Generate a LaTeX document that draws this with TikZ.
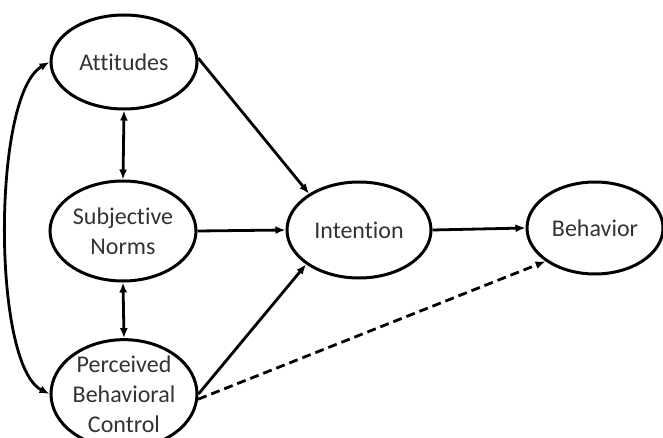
\documentclass[tikz,border=0pt]{standalone}
\usepackage{fontspec}
\setmainfont{Carlito}[Ligatures={NoCommon}]
\usetikzlibrary{shapes.geometric,arrows.meta}
\begin{document}
\begin{tikzpicture}[x=1pt,y=-1pt,
  construct/.style={ellipse,draw=black,line width=3pt,inner sep=0pt,
    minimum width=146pt,minimum height=94pt,align=center,
    font=\fontsize{24}{30}\selectfont,text=black!80},
  link/.style={line width=2.8pt,-{Latex[length=10pt,width=8pt]}},
  dlink/.style={line width=2.8pt,{Latex[length=10pt,width=8pt]}-{Latex[length=10pt,width=8pt]}},
  dashlink/.style={link,dash pattern=on 9pt off 5pt}]
\useasboundingbox (0,0) rectangle (663,438);
\fill[white] (0,0) rectangle (663,438);
\node[construct] (att) at (124,62) {Attitudes};
\node[construct,minimum height=100pt] (sn) at (123,231) {Subjective\\Norms};
\node[construct,minimum height=90pt] (pbc) at (124,394) {Perceived\\Behavioral\\Control};
\node[construct,minimum height=96pt,minimum width=144pt] (int) at (359,230) {Intention};
\node[construct,minimum height=92pt,minimum width=136pt] (beh) at (595,228) {Behavior};
\draw[link] (att.3) -- (int.144);
\draw[link] (sn.east) -- (int.west);
\draw[link] (pbc.0) -- (int.213);
\draw[link] (int.east) -- (beh.west);
\draw[dashlink] (pbc.-4) -- (beh.214);
\draw[dlink] (att.south) -- (sn.north);
\draw[dlink] (sn.south) -- (pbc.north);
\draw[dlink] (att.west) .. controls (-8,95) and (-8,365) .. (pbc.west);
\end{tikzpicture}
\end{document}
